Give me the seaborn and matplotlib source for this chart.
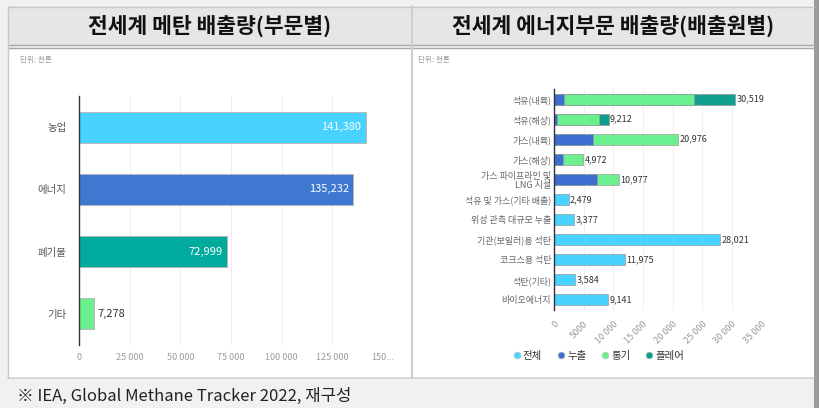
import numpy as np
import pandas as pd
import matplotlib
matplotlib.use("Agg")
import matplotlib.pyplot as plt
from matplotlib.patches import Rectangle
from matplotlib.lines import Line2D
import seaborn as sns

sns.set_theme(style="white")
plt.rcParams['font.family'] = ['Noto Sans CJK KR', 'DejaVu Sans']

# ---------------- data ----------------
left_title = "전세계 메탄 배출량(부문별)"
right_title = "전세계 에너지부문 배출량(배출원별)"
unit_text = "단위: 천톤"
footnote = "※ IEA, Global Methane Tracker 2022, 재구성"

sectors = ["농업", "에너지", "폐기물", "기타"]
sector_values = [141380, 135232, 72999, 7278]
sector_colors = ["#48D2FF", "#3E78D1", "#00AB9E", "#6AF08F"]
left_ticks = [0, 25000, 50000, 75000, 100000, 125000, 150000]
left_ticklabels = ["0", "25 000", "50 000", "75 000", "100 000", "125 000", "150..."]

sources = ["석유(내륙)", "석유(해상)", "가스(내륙)", "가스(해상)", "가스 파이프라인 및\nLNG 시설",
           "석유 및 가스(기타 배출)", "위성 관측 대규모 누출", "기관(보일러)용 석탄",
           "코크스용 석탄", "석탄(기타)", "바이오에너지"]
series_names = ["전체", "누출", "통기", "플레어"]
total_vals = [0, 0, 0, 0, 0, 2479, 3377, 28021, 11975, 3584, 9141]
leak_vals = [1700, 500, 6500, 1500, 7200, 0, 0, 0, 0, 0, 0]
vent_vals = [21900, 7100, 14476, 3472, 3777, 0, 0, 0, 0, 0, 0]
flare_vals = [6919, 1612, 0, 0, 0, 0, 0, 0, 0, 0, 0]
series_colors = ["#48D2FF", "#3E6FD0", "#6AF08F", "#0E9F8E"]
right_ticks = [0, 5000, 10000, 15000, 20000, 25000, 30000, 35000]
right_ticklabels = ["0", "5000", "10 000", "15 000", "20 000", "25 000", "30 000", "35 000"]

# ---------------- figure ----------------
W, H = 819, 408
fig = plt.figure(figsize=(W / 100, H / 100), dpi=100)
fig.patch.set_facecolor("#F1F1F1")


def rect(x0, y0, x1, y1, fc, ec="none", lw=0, z=-10):
    fig.patches.append(Rectangle((x0 / W, 1 - y1 / H), (x1 - x0) / W, (y1 - y0) / H,
                                 transform=fig.transFigure, facecolor=fc, edgecolor=ec,
                                 linewidth=lw, zorder=z))


def hline(x0, x1, y, c, lw=1):
    fig.add_artist(Line2D([x0 / W, x1 / W], [1 - y / H, 1 - y / H], color=c, lw=lw,
                          transform=fig.transFigure, zorder=-5))


def vline(x, y0, y1, c, lw=1):
    fig.add_artist(Line2D([x / W, x / W], [1 - y0 / H, 1 - y1 / H], color=c, lw=lw,
                          transform=fig.transFigure, zorder=-5))


# table cells
rect(8, 6, 814, 45, "#E6E6E6")
rect(8, 48, 814, 378, "#FFFFFF")
hline(8, 814, 6.5, "#C8C8C8", 1)
hline(8, 814, 45, "#A8A8A8", 1)
hline(8, 814, 47.5, "#A8A8A8", 1)
hline(8, 814, 378, "#D0D0D0", 1.2)
vline(8, 6, 378, "#C8C8C8", 1)
vline(412, 6, 378, "#CFCFCF", 1.5)
rect(814, 0, 819, 408, "#9A9A9A")

fig.text(210 / W, 1 - 26 / H, left_title, ha="center", va="center", fontsize=15.5,
         fontweight="bold", color="#111111")
fig.text(613 / W, 1 - 26 / H, right_title, ha="center", va="center", fontsize=15.5,
         fontweight="bold", color="#111111")
fig.text(20 / W, 1 - 60 / H, unit_text, ha="left", va="center", fontsize=5.5, color="#999999")
fig.text(418 / W, 1 - 60 / H, unit_text, ha="left", va="center", fontsize=5.5, color="#999999")
fig.text(17 / W, 1 - 396 / H, footnote, ha="left", va="center", fontsize=12, color="#222222")

# ---------------- left chart ----------------
axL = fig.add_axes([79 / W, 1 - 345 / H, (383 - 79) / W, (345 - 96) / H])
axL.patch.set_alpha(0)
dfL = pd.DataFrame({"sector": sectors, "value": sector_values})
sns.barplot(data=dfL, y="sector", x="value", hue="sector", order=sectors, hue_order=sectors,
            palette=dict(zip(sectors, sector_colors)), orient="h", width=0.5, legend=False,
            saturation=1, edgecolor="#B8B8B8", linewidth=0.7, ax=axL)
axL.set_xlim(0, 150000)
axL.set_ylim(3.5, -0.5)
axL.set_xticks(left_ticks)
axL.set_xticklabels(left_ticklabels)
axL.set_xlabel("")
axL.set_ylabel("")
axL.grid(axis="x", color="#EDEDED", lw=0.8)
axL.set_axisbelow(True)
for s in ["top", "right", "bottom"]:
    axL.spines[s].set_visible(False)
axL.spines["left"].set_color("#333333")
axL.spines["left"].set_linewidth(1)
axL.tick_params(axis="x", length=0, labelsize=6.5, labelcolor="#9A9A9A", pad=6)
axL.tick_params(axis="y", length=0, labelsize=7.5, labelcolor="#555555", pad=9)
for i, v in enumerate(sector_values):
    lab = f"{v:,}"
    if v > 30000:
        axL.annotate(lab, (v, i), xytext=(-3, 0), textcoords="offset points", ha="right",
                     va="center", fontsize=8, color="white")
    else:
        axL.annotate(lab, (v, i), xytext=(3, 0), textcoords="offset points", ha="left",
                     va="center", fontsize=8, color="#333333")

# ---------------- right chart ----------------
axR = fig.add_axes([554 / W, 1 - 310 / H, (761.5 - 554) / W, (310 - 89) / H])
axR.patch.set_alpha(0)
dfR = pd.DataFrame({"source": sources, "전체": total_vals, "누출": leak_vals,
                    "통기": vent_vals, "플레어": flare_vals})
cum = dfR[series_names].cumsum(axis=1)
for name, col in reversed(list(zip(series_names, series_colors))):
    mask = dfR[name] > 0
    sub = pd.DataFrame({"source": dfR.loc[mask, "source"], "value": cum.loc[mask, name]})
    sns.barplot(data=sub, y="source", x="value", order=sources, orient="h", width=0.55,
                color=col, saturation=1, edgecolor="#9A9A9A", linewidth=0.5, ax=axR)
totals = cum[series_names[-1]].values
for i, v in enumerate(totals):
    axR.annotate(f"{int(v):,}", (v, i), xytext=(1, 0), textcoords="offset points", ha="left",
                 va="center", fontsize=6.5, color="#333333")
axR.set_xlim(0, 35000)
axR.set_ylim(len(sources) - 0.5, -0.5)
axR.set_xticks(right_ticks)
axR.set_xticklabels(right_ticklabels, rotation=45, ha="right", rotation_mode="anchor")
axR.set_yticks(range(len(sources)))
axR.set_yticklabels(sources, multialignment="right", linespacing=1.15)
axR.set_xlabel("")
axR.set_ylabel("")
axR.grid(axis="x", color="#EFEFEF", lw=0.8)
axR.set_axisbelow(True)
for s in ["top", "right", "bottom"]:
    axR.spines[s].set_visible(False)
axR.spines["left"].set_color("#333333")
axR.spines["left"].set_linewidth(1)
axR.tick_params(axis="x", length=0, labelsize=6.5, labelcolor="#9A9A9A", pad=7)
axR.tick_params(axis="y", length=0, labelsize=6.5, labelcolor="#666666", pad=2)

handles = [Line2D([], [], marker="o", ls="none", markersize=5, markerfacecolor=c,
                  markeredgecolor="#CCCCCC", markeredgewidth=0.5) for c in series_colors]
fig.legend(handles, series_names, loc="center", bbox_to_anchor=(598 / W, 1 - 356 / H),
           ncol=4, frameon=False, fontsize=7.5, handletextpad=0.1, columnspacing=1.3,
           handlelength=1.0, labelcolor="#333333")

fig.savefig("out.png", dpi=100)
